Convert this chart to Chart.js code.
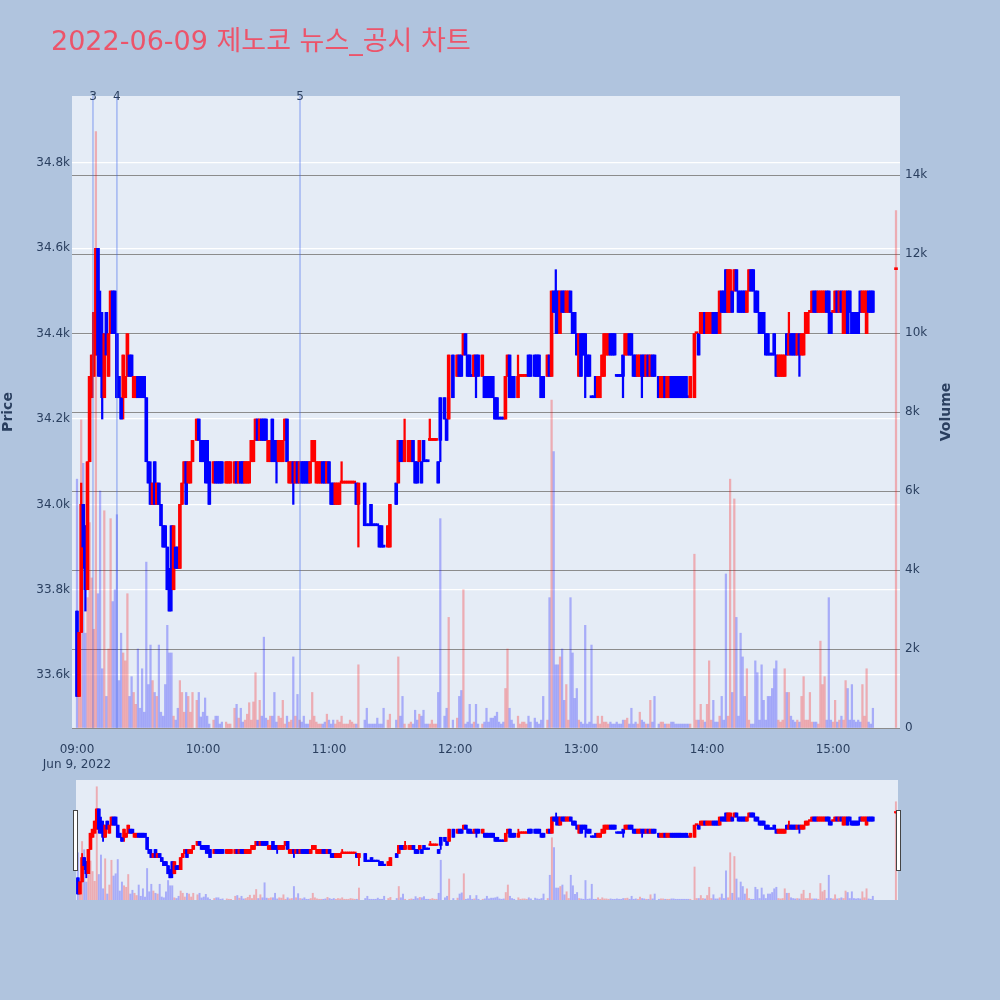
<!DOCTYPE html>
<html><head><meta charset="utf-8">
<script src="https://cdn.jsdelivr.net/npm/chart.js@4.4.1/dist/chart.umd.min.js"></script>
<style>
html,body{margin:0;padding:0;background:#B0C4DE;width:1000px;height:1000px;overflow:hidden;}
#main{position:absolute;left:0;top:0;width:1000px;height:775px;}
#slider{position:absolute;left:0;top:770px;width:1000px;height:140px;}
</style></head><body>
<canvas id="main" width="1000" height="775"></canvas>
<canvas id="slider" width="1000" height="140"></canvas>
<script>
// ---------- DATA (minutes after 09:00, per-minute OHLC + volume) ----------
const chartTitle = '2022-06-09 제노코 뉴스_공시 차트';
const dateLabel = 'Jun 9, 2022';
const timeTickMinutes = [0, 60, 120, 180, 240, 300, 360];
const timeTickLabels = ['09:00', '10:00', '11:00', '12:00', '13:00', '14:00', '15:00'];
const priceTicks = [33600, 33800, 34000, 34200, 34400, 34600, 34800];
const volumeTicks = [0, 2000, 4000, 6000, 8000, 10000, 12000, 14000];
const newsMinutes = [7.6, 19.0, 106.2];
const newsLabels = ['3', '4', '5'];

const minutes = [
 0,1,2,3,4,5,6,7,8,9,
 10,11,12,13,14,15,16,17,18,19,
 20,21,22,23,24,25,26,27,28,29,
 30,31,32,33,34,35,36,37,38,39,
 40,41,42,43,44,45,46,47,48,49,
 50,51,52,53,54,55,57,58,59,60,
 61,62,63,65,66,67,68,69,71,72,
 73,75,76,77,78,79,80,81,82,83,
 84,85,86,87,88,89,90,91,92,93,
 94,95,96,97,98,99,100,101,102,103,
 104,105,106,107,108,109,110,111,112,113,
 114,115,116,117,118,119,120,121,122,123,
 124,125,126,127,128,129,130,131,132,133,
 134,137,138,139,140,141,142,143,144,145,
 146,148,149,152,153,154,155,156,158,159,
 160,161,162,163,164,165,166,167,168,169,
 170,171,172,173,175,176,177,179,181,182,
 183,184,185,186,187,188,189,190,191,193,
 194,195,196,197,198,199,200,201,202,203,
 204,205,206,207,208,210,211,212,213,214,
 215,216,218,219,220,221,222,224,225,226,
 227,228,229,230,231,232,233,234,235,236,
 237,238,239,240,241,242,243,244,245,246,
 247,248,249,250,251,252,253,254,255,256,
 257,258,259,260,261,262,263,264,265,266,
 267,268,269,270,271,272,273,274,275,277,
 278,279,280,281,282,283,284,285,286,287,
 288,289,290,291,292,294,295,296,297,298,
 299,300,301,302,303,304,305,306,307,308,
 309,310,311,312,313,314,315,316,317,318,
 319,320,321,322,323,324,325,326,327,328,
 329,330,331,332,333,334,335,336,337,338,
 339,340,341,342,343,344,345,346,347,348,
 349,350,351,352,353,354,355,356,357,358,
 359,360,361,362,363,364,365,366,367,368,
 369,370,371,372,373,374,375,376,377,378,
 379,390
];
const opens = [
 33750,33550,33700,34000,33950,33800,34100,34250,34300,34350,
 34600,34450,34400,34250,34450,34300,34400,34500,34500,34400,
 34300,34250,34250,34250,34300,34350,34350,34250,34250,34300,
 34300,34300,34300,34250,34100,34050,34000,34100,34000,34050,
 34000,33950,33950,33900,33850,33950,33800,33900,33900,33850,
 34000,34050,34100,34050,34050,34100,34150,34200,34150,34150,
 34150,34150,34100,34050,34100,34100,34100,34100,34050,34050,
 34050,34050,34100,34050,34100,34100,34050,34050,34050,34100,
 34100,34150,34200,34150,34200,34200,34200,34100,34100,34200,
 34150,34150,34100,34100,34100,34150,34200,34050,34050,34100,
 34050,34100,34050,34100,34100,34100,34100,34050,34100,34100,
 34050,34050,34050,34100,34100,34050,34100,34050,34050,34000,
 34000,34000,34050,34050,34050,34050,34050,34050,34050,34050,
 34000,34050,33950,33950,34000,33950,33950,33950,33950,33950,
 33900,33900,33900,34050,34050,34150,34150,34100,34100,34100,
 34150,34100,34100,34100,34100,34150,34100,34100,34150,34150,
 34150,34150,34100,34250,34250,34200,34200,34350,34300,34350,
 34350,34350,34400,34350,34350,34300,34300,34350,34350,34300,
 34300,34300,34300,34300,34300,34250,34250,34200,34200,34200,
 34200,34300,34350,34300,34300,34250,34300,34300,34300,34300,
 34350,34350,34350,34350,34350,34300,34300,34300,34350,34300,
 34500,34500,34500,34400,34500,34500,34450,34450,34500,34450,
 34450,34400,34300,34400,34400,34400,34350,34350,34250,34250,
 34300,34250,34250,34300,34300,34350,34350,34400,34400,34400,
 34300,34300,34300,34350,34350,34350,34400,34400,34350,34350,
 34300,34300,34350,34350,34300,34350,34300,34350,34350,34300,
 34250,34250,34300,34250,34250,34300,34300,34300,34300,34300,
 34300,34300,34300,34250,34250,34250,34400,34400,34400,34400,
 34450,34400,34400,34400,34450,34450,34450,34400,34500,34500,
 34550,34450,34450,34500,34500,34550,34500,34500,34500,34500,
 34450,34500,34550,34550,34500,34500,34450,34450,34450,34400,
 34400,34350,34350,34400,34350,34300,34300,34300,34300,34400,
 34350,34400,34400,34400,34350,34400,34350,34350,34400,34400,
 34450,34450,34500,34500,34450,34450,34450,34450,34500,34500,
 34450,34450,34450,34500,34450,34500,34400,34450,34500,34500,
 34450,34450,34450,34450,34500,34450,34450,34400,34500,34500,
 34500,34550
];
const highs = [
 33750,33700,34050,34000,33950,34100,34300,34350,34450,34600,
 34600,34500,34450,34400,34450,34400,34500,34500,34500,34400,
 34300,34250,34350,34300,34400,34350,34350,34300,34300,34300,
 34300,34300,34300,34250,34100,34100,34050,34100,34050,34050,
 34000,33950,33950,33900,33850,33950,33950,33900,33900,34000,
 34050,34100,34100,34100,34100,34150,34200,34200,34150,34150,
 34150,34150,34100,34100,34100,34100,34100,34100,34100,34100,
 34100,34100,34100,34100,34100,34100,34100,34100,34100,34150,
 34150,34200,34200,34200,34200,34200,34200,34150,34150,34200,
 34150,34150,34150,34150,34150,34200,34200,34100,34100,34100,
 34100,34100,34100,34100,34100,34100,34100,34100,34150,34150,
 34100,34100,34100,34100,34100,34100,34100,34050,34050,34050,
 34050,34050,34100,34050,34050,34050,34050,34050,34050,34050,
 34050,34050,33950,33950,34000,33950,33950,33950,33950,33950,
 33900,33950,34000,34050,34150,34150,34150,34200,34150,34150,
 34150,34100,34100,34150,34100,34150,34100,34100,34200,34150,
 34150,34150,34100,34250,34250,34200,34350,34350,34350,34350,
 34350,34400,34400,34350,34350,34300,34350,34350,34350,34350,
 34300,34300,34300,34300,34300,34250,34250,34200,34200,34200,
 34300,34350,34350,34300,34300,34350,34300,34300,34300,34300,
 34350,34350,34350,34350,34350,34300,34300,34350,34350,34500,
 34500,34550,34500,34500,34500,34500,34500,34500,34500,34450,
 34450,34400,34400,34400,34400,34400,34350,34350,34250,34250,
 34300,34300,34300,34350,34400,34400,34400,34400,34400,34400,
 34300,34300,34300,34350,34400,34400,34400,34400,34350,34350,
 34350,34350,34350,34350,34350,34350,34350,34350,34350,34300,
 34300,34300,34300,34300,34300,34300,34300,34300,34300,34300,
 34300,34300,34300,34250,34300,34400,34400,34400,34450,34450,
 34450,34450,34450,34450,34450,34450,34450,34500,34500,34500,
 34550,34550,34550,34500,34550,34550,34500,34500,34500,34500,
 34500,34550,34550,34550,34500,34500,34450,34450,34450,34400,
 34400,34350,34350,34400,34350,34350,34350,34350,34350,34400,
 34450,34400,34400,34400,34400,34400,34400,34400,34450,34450,
 34450,34500,34500,34500,34500,34500,34500,34500,34500,34500,
 34450,34450,34500,34500,34500,34500,34500,34500,34500,34500,
 34450,34450,34450,34450,34500,34500,34500,34500,34500,34500,
 34500,34550
];
const lows = [
 33550,33550,33700,33850,33750,33800,34100,34250,34300,34350,
 34300,34300,34200,34250,34350,34300,34400,34400,34400,34250,
 34250,34200,34200,34250,34300,34300,34300,34250,34250,34250,
 34250,34250,34250,34100,34050,34000,34000,34000,34000,34000,
 33950,33900,33900,33800,33750,33750,33800,33850,33850,33850,
 34000,34050,34000,34050,34050,34100,34150,34150,34100,34100,
 34050,34050,34000,34050,34050,34050,34050,34050,34050,34050,
 34050,34050,34050,34050,34050,34050,34050,34050,34050,34100,
 34100,34150,34150,34150,34150,34150,34150,34100,34100,34100,
 34100,34050,34100,34100,34100,34150,34100,34050,34050,34000,
 34050,34050,34050,34050,34050,34050,34050,34050,34100,34100,
 34050,34050,34050,34050,34050,34050,34050,34000,34000,34000,
 34000,34000,34050,34050,34050,34050,34050,34050,34050,34000,
 33900,33950,33950,33950,33950,33950,33950,33950,33900,33900,
 33900,33900,33900,34000,34050,34100,34100,34100,34100,34100,
 34100,34050,34050,34100,34050,34100,34100,34100,34150,34150,
 34150,34150,34050,34100,34200,34150,34200,34250,34300,34300,
 34300,34350,34350,34300,34300,34300,34300,34250,34300,34300,
 34250,34250,34250,34250,34250,34200,34200,34200,34200,34200,
 34200,34300,34250,34250,34250,34250,34300,34300,34300,34300,
 34300,34300,34300,34300,34300,34250,34250,34300,34300,34300,
 34450,34400,34400,34400,34450,34450,34450,34450,34450,34400,
 34400,34350,34300,34300,34350,34250,34300,34300,34250,34250,
 34250,34250,34250,34300,34300,34350,34350,34350,34350,34350,
 34300,34300,34300,34250,34350,34350,34350,34350,34300,34300,
 34300,34300,34250,34300,34300,34300,34300,34300,34300,34250,
 34250,34250,34250,34250,34250,34250,34250,34250,34250,34250,
 34250,34250,34250,34250,34250,34250,34400,34350,34400,34400,
 34400,34400,34400,34400,34400,34400,34400,34400,34450,34450,
 34450,34450,34450,34450,34500,34500,34450,34450,34450,34450,
 34450,34500,34500,34500,34450,34450,34400,34400,34400,34350,
 34350,34350,34350,34350,34300,34300,34300,34300,34300,34350,
 34350,34350,34350,34350,34350,34300,34350,34350,34400,34400,
 34450,34450,34450,34450,34450,34450,34450,34450,34450,34400,
 34400,34450,34450,34450,34450,34450,34400,34400,34400,34450,
 34400,34400,34400,34400,34450,34450,34450,34400,34450,34450,
 34450,34550
];
const closes = [
 33550,33700,34000,33900,33800,34100,34300,34350,34450,34600,
 34350,34300,34250,34400,34350,34400,34500,34400,34400,34250,
 34250,34200,34350,34300,34400,34300,34300,34300,34300,34250,
 34250,34250,34250,34100,34050,34000,34050,34000,34050,34000,
 33950,33900,33900,33800,33750,33800,33950,33850,33850,34000,
 34050,34100,34000,34100,34100,34150,34200,34150,34100,34100,
 34100,34050,34000,34100,34050,34050,34050,34050,34100,34100,
 34100,34100,34050,34100,34050,34050,34100,34100,34100,34150,
 34150,34200,34150,34200,34150,34150,34150,34150,34150,34100,
 34100,34100,34150,34150,34150,34200,34100,34100,34100,34050,
 34100,34050,34100,34050,34050,34050,34050,34100,34150,34150,
 34100,34100,34100,34050,34050,34100,34050,34000,34000,34050,
 34050,34050,34050,34050,34050,34050,34050,34050,34050,34000,
 34050,33950,33950,33950,33950,33950,33950,33950,33900,33900,
 33900,33950,34000,34000,34150,34100,34100,34150,34150,34150,
 34100,34050,34050,34150,34050,34100,34100,34100,34150,34150,
 34150,34150,34050,34150,34200,34150,34350,34250,34350,34300,
 34300,34400,34350,34300,34300,34300,34350,34300,34300,34350,
 34250,34250,34250,34250,34250,34200,34200,34200,34200,34200,
 34300,34350,34250,34250,34250,34300,34300,34300,34300,34300,
 34300,34300,34300,34300,34300,34250,34250,34350,34300,34500,
 34450,34450,34400,34500,34450,34450,34500,34500,34450,34400,
 34400,34350,34400,34300,34350,34350,34300,34300,34250,34250,
 34250,34300,34300,34350,34400,34400,34400,34350,34350,34350,
 34300,34300,34300,34300,34400,34400,34350,34350,34300,34300,
 34350,34350,34300,34300,34350,34300,34350,34300,34300,34250,
 34300,34300,34250,34300,34300,34250,34250,34250,34250,34250,
 34250,34250,34250,34250,34300,34400,34400,34350,34450,34450,
 34400,34450,34450,34450,34400,34400,34400,34500,34450,34450,
 34450,34550,34550,34450,34550,34500,34450,34450,34450,34450,
 34500,34550,34500,34500,34450,34450,34400,34400,34400,34350,
 34350,34350,34350,34350,34300,34350,34350,34350,34350,34350,
 34400,34350,34350,34350,34400,34350,34400,34400,34450,34450,
 34450,34500,34450,34450,34500,34500,34500,34500,34450,34450,
 34400,34450,34500,34450,34500,34450,34500,34500,34400,34450,
 34400,34400,34400,34400,34450,34500,34500,34500,34450,34450,
 34450,34550
];
const volumes = [
 6300,2400,7800,6700,2400,3300,5200,3800,2500,15100,
 3400,6000,1500,5500,800,2000,5300,3200,3500,5400,
 1200,2400,1900,1700,3400,800,1300,900,600,2000,
 500,1500,400,4200,1100,2100,1200,900,800,2100,
 400,300,1100,2600,1900,1900,300,200,500,1200,
 900,400,900,800,400,900,700,900,280,400,
 760,300,100,200,300,300,100,150,150,100,
 100,500,600,250,500,150,200,350,640,200,
 660,1400,200,700,300,2300,250,200,300,300,
 900,150,300,250,700,100,300,150,200,1800,
 300,850,200,150,300,100,100,200,900,300,
 150,100,100,100,150,350,200,100,200,100,
 200,150,300,100,100,100,200,150,100,100,
 1600,200,500,100,100,100,100,250,100,100,
 500,200,350,200,1800,300,800,100,100,150,
 100,450,200,350,300,450,100,100,100,200,
 100,100,900,5300,300,500,2800,200,250,800,
 950,3500,100,150,600,100,150,600,100,100,
 150,500,150,250,250,300,400,150,100,150,
 1000,2000,500,200,100,300,100,150,150,100,
 300,150,250,150,100,200,800,200,3300,8300,
 7000,1600,1600,1800,2000,700,1100,200,3300,1900,
 750,1000,200,150,100,2600,100,150,2100,100,
 100,300,100,300,150,150,100,150,100,100,
 150,100,100,200,200,250,100,500,100,150,
 100,400,200,150,100,100,700,150,800,100,
 150,150,100,100,100,150,150,100,100,100,
 100,100,100,100,100,4400,200,200,600,200,
 150,600,1700,200,700,150,150,300,800,200,
 3900,300,6300,900,5800,2800,300,2400,1800,800,
 1500,200,100,100,1700,1400,200,1600,700,200,
 800,800,1000,1500,1700,200,150,200,1500,900,
 900,300,200,150,200,150,800,1300,200,200,
 900,150,150,150,100,2200,1100,1300,200,3300,
 200,150,700,150,200,300,200,1200,1000,200,
 1100,200,150,200,150,1100,300,1500,150,100,
 500,13100
];

// ---------- STYLE ----------
const FONT = "'DejaVu Sans', Verdana, 'Noto Sans CJK KR', sans-serif";
const TXT = '#2a3f5f';
const INC = '#ff0000', DEC = '#0000ff';
const INC_VOL = 'rgba(255,0,0,0.27)', DEC_VOL = 'rgba(0,0,255,0.27)';
const PLOT_BG = '#E5ECF6';

// direction of each candle (Plotly-like: equal open/close follows previous close)
const dirs = [];
{ let prev = true;
  for (let i = 0; i < minutes.length; i++) {
    let d;
    if (closes[i] > opens[i]) d = true;
    else if (closes[i] < opens[i]) d = false;
    else if (i > 0 && closes[i] > closes[i-1]) d = true;
    else if (i > 0 && closes[i] < closes[i-1]) d = false;
    else d = prev;
    dirs.push(d); prev = d;
  } }
const candleColors = dirs.map(d => d ? INC : DEC);
const volColors = dirs.map(d => d ? INC_VOL : DEC_VOL);

function makeDatasets(thin) {
  return [
    { label: 'body', type: 'bar', data: minutes.map((m, i) => ({x: m, y: [opens[i], closes[i]]})),
      backgroundColor: candleColors, barThickness: 3, minBarLength: thin ? 1.5 : 2, grouped: false, order: 0, yAxisID: 'y' },
    { label: 'wick', type: 'bar', data: minutes.map((m, i) => ({x: m, y: [lows[i], highs[i]]})),
      backgroundColor: candleColors, barThickness: thin ? 1.2 : 1.6, grouped: false, order: 1, yAxisID: 'y' },
    { label: 'volume', type: 'bar', data: minutes.map((m, i) => ({x: m, y: volumes[i]})),
      backgroundColor: volColors, barThickness: thin ? 1.3 : 1.6, grouped: false, order: 2, yAxisID: 'y2' }
  ];
}

const bgPlugin = {
  id: 'plotbg',
  beforeDraw(chart) {
    const a = chart.chartArea, ctx = chart.ctx;
    ctx.save(); ctx.fillStyle = PLOT_BG; ctx.fillRect(a.left, a.top, a.right - a.left, a.bottom - a.top); ctx.restore();
  }
};

const overlayPlugin = {
  id: 'overlay',
  afterDatasetsDraw(chart) {
    const a = chart.chartArea, ctx = chart.ctx, xs = chart.scales.x;
    ctx.save();
    // news markers
    ctx.strokeStyle = 'rgba(60,100,235,0.4)'; ctx.lineWidth = 1.5;
    ctx.fillStyle = TXT; ctx.font = '12px ' + FONT; ctx.textAlign = 'center'; ctx.textBaseline = 'alphabetic';
    newsMinutes.forEach((m, i) => {
      const px = xs.getPixelForValue(m);
      ctx.beginPath(); ctx.moveTo(px, a.top); ctx.lineTo(px, a.bottom); ctx.stroke();
      ctx.fillText(newsLabels[i], px, a.top + 4);
    });
    // title
    ctx.font = '27px ' + FONT; ctx.fillStyle = '#EC546A'; ctx.textAlign = 'left';
    ctx.fillText(chartTitle, 51, 50);
    // right axis title
    ctx.translate(946, (a.top + a.bottom) / 2); ctx.rotate(-Math.PI / 2);
    ctx.font = 'bold 14px ' + FONT; ctx.fillStyle = TXT; ctx.textAlign = 'center'; ctx.textBaseline = 'middle';
    ctx.fillText('Volume', 0, 0);
    ctx.restore();
  }
};

const tickFont = {family: FONT, size: 12};

new Chart(document.getElementById('main'), {
  type: 'bar',
  data: { datasets: makeDatasets(false) },
  options: {
    responsive: false, animation: false, events: [],
    layout: { padding: {left: 0, right: 0, top: 96, bottom: 0} },
    plugins: { legend: {display: false}, tooltip: {enabled: false}, title: {display: false} },
    scales: {
      x: {
        type: 'linear', min: -2.38, max: 391.9, offset: false,
        grid: {display: false, offset: false}, border: {display: false},
        ticks: { font: tickFont, color: TXT, padding: 7, maxRotation: 0, autoSkip: false,
          callback: (v, i) => i === 0 ? [timeTickLabels[0], dateLabel] : timeTickLabels[i] },
        afterBuildTicks: s => { s.ticks = timeTickMinutes.map(v => ({value: v})); },
        afterFit: s => { s.height = 47; }
      },
      y: {
        position: 'left', min: 33476, max: 34957,
        grid: {color: '#ffffff', lineWidth: 1.2, drawTicks: false}, border: {display: false},
        ticks: { font: tickFont, color: TXT, padding: 2, callback: v => (v / 1000).toFixed(1) + 'k' },
        afterBuildTicks: s => { s.ticks = priceTicks.map(v => ({value: v})); },
        afterFit: s => { s.width = 72; },
        title: { display: true, text: 'Price', color: TXT, padding: 0, font: {family: FONT, size: 14, weight: 'bold'} }
      },
      y2: {
        position: 'right', min: 0, max: 16000,
        grid: {color: '#8c8c8c', lineWidth: 1, drawTicks: false}, border: {display: false},
        ticks: { font: tickFont, color: TXT, padding: 5, callback: v => v === 0 ? '0' : (v / 1000) + 'k' },
        afterBuildTicks: s => { s.ticks = volumeTicks.map(v => ({value: v})); },
        afterFit: s => { s.width = 100; }
      }
    }
  },
  plugins: [bgPlugin, overlayPlugin]
});

const handlePlugin = {
  id: 'handles',
  afterDraw(chart) {
    const a = chart.chartArea, ctx = chart.ctx;
    const h = (a.bottom - a.top) * 0.5, y0 = a.top + (a.bottom - a.top - h) / 2;
    ctx.save(); ctx.fillStyle = '#ffffff'; ctx.strokeStyle = '#444'; ctx.lineWidth = 1;
    [a.left - 1, a.right].forEach(cx => {
      ctx.fillRect(cx - 2, y0, 4, h); ctx.strokeRect(cx - 2 + 0.5, y0 + 0.5, 4, h);
    });
    ctx.restore();
  }
};

new Chart(document.getElementById('slider'), {
  type: 'bar',
  data: { datasets: makeDatasets(true) },
  options: {
    responsive: false, animation: false, events: [],
    layout: { padding: {left: 76, right: 102, top: 10, bottom: 10} },
    plugins: { legend: {display: false}, tooltip: {enabled: false} },
    scales: {
      x: { type: 'linear', display: false, min: -0.9, max: 391, offset: false, grid: {offset: false} },
      y: { display: false, min: 33476, max: 34957 },
      y2: { display: false, min: 0, max: 16000, position: 'right' }
    }
  },
  plugins: [bgPlugin, handlePlugin]
});
</script>
</body></html>
